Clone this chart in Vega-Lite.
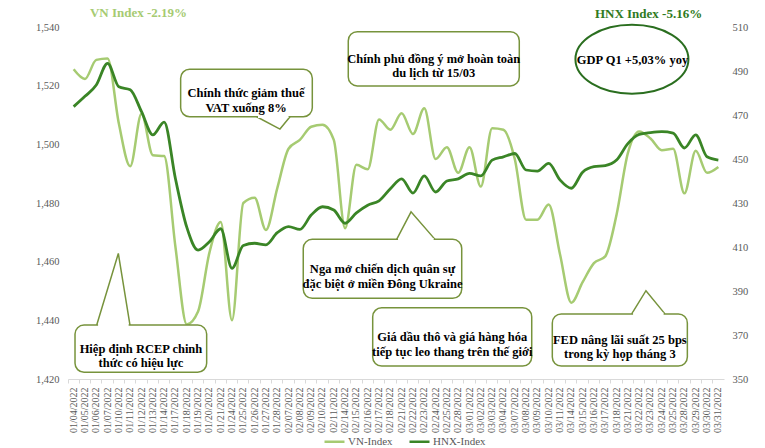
{
  "$schema": "https://vega.github.io/schema/vega-lite/v6.json",
  "width": 656,
  "height": 352,
  "autosize": {"type": "none"},
  "padding": {"left": 68, "top": 27, "right": 41, "bottom": 69},
  "background": "white",
  "config": {"view": {"stroke": null}, "font": "Liberation Serif"},
  "datasets": {
    "idx": [
      {"date": "01/04/2022", "vn": 1525.6, "hnx": 473.8},
      {"date": "01/05/2022", "vn": 1522.3, "hnx": 478.5},
      {"date": "01/06/2022", "vn": 1528.8, "hnx": 483.6},
      {"date": "01/07/2022", "vn": 1529.3, "hnx": 493.5},
      {"date": "01/10/2022", "vn": 1507, "hnx": 482.8},
      {"date": "01/11/2022", "vn": 1492.5, "hnx": 481.5},
      {"date": "01/12/2022", "vn": 1510.4, "hnx": 471.5},
      {"date": "01/13/2022", "vn": 1496.3, "hnx": 461},
      {"date": "01/14/2022", "vn": 1496, "hnx": 466.8},
      {"date": "01/17/2022", "vn": 1465, "hnx": 441},
      {"date": "01/18/2022", "vn": 1438.6, "hnx": 419},
      {"date": "01/19/2022", "vn": 1443, "hnx": 408.6},
      {"date": "01/20/2022", "vn": 1463, "hnx": 412.4},
      {"date": "01/21/2022", "vn": 1473.5, "hnx": 418.3},
      {"date": "01/24/2022", "vn": 1440, "hnx": 400.3},
      {"date": "01/25/2022", "vn": 1480, "hnx": 410.7},
      {"date": "01/26/2022", "vn": 1481.8, "hnx": 411.7},
      {"date": "01/27/2022", "vn": 1470.8, "hnx": 411},
      {"date": "01/28/2022", "vn": 1485, "hnx": 416.5},
      {"date": "02/07/2022", "vn": 1498.5, "hnx": 419.3},
      {"date": "02/08/2022", "vn": 1501.5, "hnx": 418},
      {"date": "02/09/2022", "vn": 1506, "hnx": 424.5},
      {"date": "02/10/2022", "vn": 1506.7, "hnx": 428.3},
      {"date": "02/11/2022", "vn": 1501.5, "hnx": 426.8},
      {"date": "02/14/2022", "vn": 1471.4, "hnx": 420.8},
      {"date": "02/15/2022", "vn": 1493, "hnx": 425.5},
      {"date": "02/16/2022", "vn": 1491.5, "hnx": 429},
      {"date": "02/17/2022", "vn": 1508.5, "hnx": 431},
      {"date": "02/18/2022", "vn": 1505, "hnx": 436.5},
      {"date": "02/21/2022", "vn": 1510.6, "hnx": 441},
      {"date": "02/22/2022", "vn": 1503.5, "hnx": 434.5},
      {"date": "02/23/2022", "vn": 1512.3, "hnx": 442.3},
      {"date": "02/24/2022", "vn": 1495, "hnx": 435},
      {"date": "02/25/2022", "vn": 1499, "hnx": 440},
      {"date": "02/28/2022", "vn": 1490.3, "hnx": 441},
      {"date": "03/01/2022", "vn": 1499, "hnx": 443.5},
      {"date": "03/02/2022", "vn": 1485.6, "hnx": 442.3},
      {"date": "03/03/2022", "vn": 1505.5, "hnx": 449.5},
      {"date": "03/04/2022", "vn": 1505, "hnx": 451},
      {"date": "03/07/2022", "vn": 1495, "hnx": 452.5},
      {"date": "03/08/2022", "vn": 1474.3, "hnx": 445},
      {"date": "03/09/2022", "vn": 1474.3, "hnx": 444.5},
      {"date": "03/10/2022", "vn": 1479.5, "hnx": 448},
      {"date": "03/11/2022", "vn": 1462.5, "hnx": 440.5},
      {"date": "03/14/2022", "vn": 1446, "hnx": 436.7},
      {"date": "03/15/2022", "vn": 1453, "hnx": 444},
      {"date": "03/16/2022", "vn": 1459.5, "hnx": 446.5},
      {"date": "03/17/2022", "vn": 1461.8, "hnx": 447},
      {"date": "03/18/2022", "vn": 1476, "hnx": 449.5},
      {"date": "03/21/2022", "vn": 1497, "hnx": 457},
      {"date": "03/22/2022", "vn": 1504.4, "hnx": 461.2},
      {"date": "03/23/2022", "vn": 1502, "hnx": 462},
      {"date": "03/24/2022", "vn": 1498, "hnx": 462.4},
      {"date": "03/25/2022", "vn": 1498.5, "hnx": 461.8},
      {"date": "03/28/2022", "vn": 1483.3, "hnx": 455},
      {"date": "03/29/2022", "vn": 1497.8, "hnx": 461},
      {"date": "03/30/2022", "vn": 1490.3, "hnx": 451},
      {"date": "03/31/2022", "vn": 1492.3, "hnx": 449.5}
    ],
    "boxes": [
      {"id": "vat", "x1": 9.46, "x2": 21.1, "y1": 1525.6, "y2": 1509.4},
      {"id": "dulich", "x1": 24.28, "x2": 39.4, "y1": 1538.4, "y2": 1519.9},
      {"id": "rcep", "x1": 0.12, "x2": 11.76, "y1": 1438.4, "y2": 1422.3},
      {"id": "nga", "x1": 20.3, "x2": 34.31, "y1": 1467.6, "y2": 1447.5},
      {"id": "dau", "x1": 26.44, "x2": 40.5, "y1": 1444.3, "y2": 1424.4},
      {"id": "fed", "x1": 42.32, "x2": 54.26, "y1": 1442.2, "y2": 1424.4}
    ],
    "gaps": [
      {"id": "vat", "xa": 16.3, "xb": 19.0, "v": 1509.4},
      {"id": "rcep", "xa": 2.16, "xb": 4.86, "v": 1438.4},
      {"id": "nga", "xa": 28.68, "xb": 31.83, "v": 1467.6},
      {"id": "fed", "xa": 49.46, "xb": 52.16, "v": 1442.2}
    ],
    "pointers": [
      {"id": "vat", "o": 1, "xi": 16.18, "v": 1509.4},
      {"id": "vat", "o": 2, "xi": 18.24, "v": 1505.2},
      {"id": "vat", "o": 3, "xi": 19.13, "v": 1509.4},
      {"id": "rcep", "o": 1, "xi": 2.04, "v": 1438.4},
      {"id": "rcep", "o": 2, "xi": 3.95, "v": 1462.8},
      {"id": "rcep", "o": 3, "xi": 4.98, "v": 1438.4},
      {"id": "nga", "o": 1, "xi": 28.56, "v": 1467.6},
      {"id": "nga", "o": 2, "xi": 29.83, "v": 1477.0},
      {"id": "nga", "o": 3, "xi": 31.95, "v": 1467.6},
      {"id": "fed", "o": 1, "xi": 49.34, "v": 1442.2},
      {"id": "fed", "o": 2, "xi": 50.6, "v": 1450.1},
      {"id": "fed", "o": 3, "xi": 52.28, "v": 1442.2}
    ],
    "notes": [
      {"xi": 15.24, "v": 1517.5, "label": "Chính thức giảm thuế\nVAT xuống 8%"},
      {"xi": 31.84, "v": 1529.1, "label": "Chính phủ đồng ý mở hoàn toàn\ndu lịch từ 15/03"},
      {"xi": 5.95, "v": 1430.3, "label": "Hiệp định RCEP chinh\nthức có hiệu lực"},
      {"xi": 27.31, "v": 1457.5, "label": "Nga mở chiến dịch quân sự\nđặc biệt ở miền Đông Ukraine"},
      {"xi": 33.47, "v": 1434.3, "label": "Giá dầu thô và giá hàng hóa\ntiếp tục leo thang trên thế giới"},
      {"xi": 48.29, "v": 1433.3, "label": "FED nâng lãi suất 25 bps\ntrong kỳ họp tháng 3"},
      {"xi": 49.41, "v": 1528.8, "label": "GDP Q1 +5,03% yoy"}
    ],
    "ellipse": [
      {"xi": 49.36, "v": 1529}
    ]
  },
  "layer": [
    {
      "data": {"name": "idx"},
      "encoding": {
        "x": {
          "field": "date", "type": "ordinal", "sort": null,
          "scale": {"type": "band", "paddingInner": 0, "paddingOuter": 0},
          "axis": {
            "title": null, "labelAngle": -90, "labelOverlap": false,
            "labelFontSize": 10, "labelColor": "#595959", "labelFont": "Liberation Serif",
            "labelPadding": 4, "bandPosition": 0, "tickSize": 4, "tickColor": "#d9d9d9",
            "domainColor": "#d9d9d9", "grid": false
          }
        }
      },
      "layer": [
        {
          "mark": {"type": "line", "interpolate": "monotone", "strokeWidth": 2.5},
          "encoding": {
            "y": {
              "field": "vn", "type": "quantitative",
              "scale": {"domain": [1420, 1540], "nice": false, "zero": false},
              "axis": {
                "orient": "left", "values": [1420, 1440, 1460, 1480, 1500, 1520, 1540],
                "format": ",.0f", "grid": false, "domain": false, "ticks": false,
                "labelPadding": 9, "labelFontSize": 10.5, "labelColor": "#595959",
                "labelFont": "Liberation Serif",
                "title": "VN Index -2.19%", "titleAngle": 0, "titleAlign": "center",
                "titleBaseline": "middle", "titleX": 70, "titleY": -15,
                "titleColor": "#A6CB72", "titleFontSize": 13, "titleFontWeight": "bold",
                "titleFont": "Liberation Serif"
              }
            },
            "color": {
              "datum": "VN-Index",
              "scale": {"domain": ["VN-Index", "HNX-Index"], "range": ["#A6CB72", "#3A8526"]},
              "legend": {
                "orient": "none", "legendX": 255, "legendY": 403, "direction": "horizontal",
                "title": null, "symbolType": "stroke", "symbolSize": 400, "symbolStrokeWidth": 2.5,
                "labelFont": "Liberation Serif", "labelFontSize": 11, "labelColor": "#595959",
                "labelOffset": 2, "columnPadding": 11
              }
            }
          }
        },
        {
          "mark": {"type": "line", "interpolate": "monotone", "strokeWidth": 2.8},
          "encoding": {
            "y": {
              "field": "hnx", "type": "quantitative",
              "scale": {"domain": [350, 510], "nice": false, "zero": false},
              "axis": {
                "orient": "right", "values": [350, 370, 390, 410, 430, 450, 470, 490, 510],
                "format": ".0f", "grid": false, "domain": false, "ticks": false,
                "labelPadding": 8, "labelFontSize": 10.5, "labelColor": "#595959",
                "labelFont": "Liberation Serif",
                "title": "HNX Index -5.16%", "titleAngle": 0, "titleAlign": "center",
                "titleBaseline": "middle", "titleX": -76, "titleY": -14,
                "titleColor": "#2F7A22", "titleFontSize": 13, "titleFontWeight": "bold",
                "titleFont": "Liberation Serif"
              }
            },
            "color": {"datum": "HNX-Index"}
          }
        }
      ],
      "resolve": {"scale": {"y": "independent"}}
    },
    {
      "layer": [
        {
          "data": {"name": "pointers"},
          "mark": {"type": "line", "stroke": "#77933C", "strokeWidth": 1.5},
          "encoding": {
            "x": {"field": "xi", "type": "quantitative", "scale": {"domain": [-0.5, 57.5], "nice": false, "zero": false}, "axis": null},
            "y": {"field": "v", "type": "quantitative", "scale": {"domain": [1420, 1540], "nice": false, "zero": false}, "axis": null},
            "detail": {"field": "id"},
            "order": {"field": "o"}
          }
        },
        {
          "data": {"name": "boxes"},
          "mark": {"type": "rect", "fill": "white", "stroke": "#77933C", "strokeWidth": 1.5, "cornerRadius": 9},
          "encoding": {
            "x": {"field": "x1", "type": "quantitative"},
            "x2": {"field": "x2"},
            "y": {"field": "y1", "type": "quantitative"},
            "y2": {"field": "y2"}
          }
        },
        {
          "data": {"name": "gaps"},
          "mark": {"type": "rule", "stroke": "white", "strokeWidth": 2.5},
          "encoding": {
            "x": {"field": "xa", "type": "quantitative"},
            "x2": {"field": "xb"},
            "y": {"field": "v", "type": "quantitative"}
          }
        },
        {
          "data": {"name": "ellipse"},
          "mark": {
            "type": "point", "shape": "M -1 0 A 1 0.61 0 1 0 1 0 A 1 0.61 0 1 0 -1 0 Z",
            "size": 12769, "filled": false, "fill": "white", "fillOpacity": 1, "stroke": "#2A6E1F", "strokeWidth": 2, "opacity": 1
          },
          "encoding": {
            "x": {"field": "xi", "type": "quantitative"},
            "y": {"field": "v", "type": "quantitative"}
          }
        },
        {
          "data": {"name": "notes"},
          "mark": {
            "type": "text", "lineBreak": "\n", "align": "center", "baseline": "middle",
            "font": "Liberation Serif", "fontWeight": "bold", "fontSize": 12.5, "lineHeight": 14.5, "color": "black"
          },
          "encoding": {
            "x": {"field": "xi", "type": "quantitative"},
            "y": {"field": "v", "type": "quantitative"},
            "text": {"field": "label"}
          }
        }
      ]
    }
  ],
  "resolve": {"scale": {"x": "independent", "y": "independent"}}
}
